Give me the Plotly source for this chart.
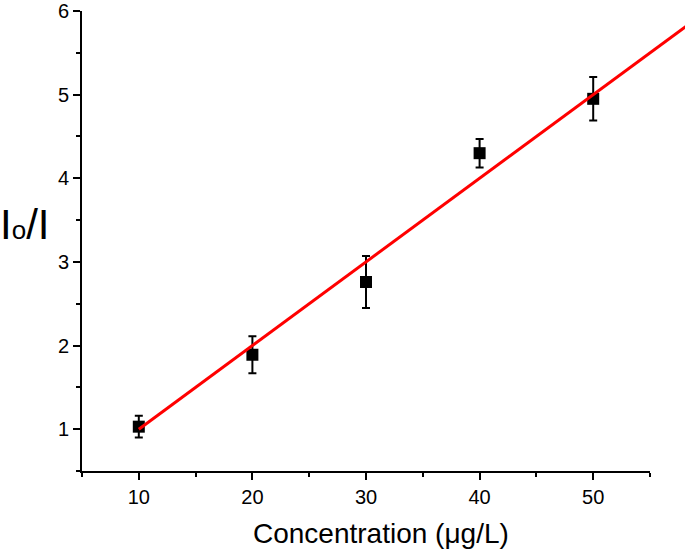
import plotly.graph_objects as go

# Data
conc = [10, 20, 30, 40, 50]
ratio = [1.03, 1.89, 2.76, 4.30, 4.95]
err = [0.13, 0.22, 0.31, 0.17, 0.26]
fit_x = [10, 60]
fit_y = [1.0, 6.0]

W, H = 685, 553
ML, MR, MT, MB = 82, 0, 8, 82
plot_right = 650  # px where x=55 sits
x0, x1 = 5, 55
pw = W - ML - MR
d1 = (plot_right - ML) / pw
scale = (plot_right - ML) / (x1 - x0)
x2max = x0 + pw / scale

font = "Liberation Sans, Arial, sans-serif"

fig = go.Figure()
fig.add_trace(go.Scatter(
    x=conc, y=ratio, mode="markers",
    marker=dict(symbol="square", size=12, color="black"),
    error_y=dict(type="data", array=err, visible=True, color="black", thickness=2, width=4),
    xaxis="x", yaxis="y", showlegend=False, cliponaxis=False,
))
fig.add_trace(go.Scatter(
    x=fit_x, y=fit_y, mode="lines",
    line=dict(color="#ff0000", width=3),
    xaxis="x2", yaxis="y2", showlegend=False,
))

axis_common = dict(
    showgrid=False, zeroline=False, showline=True, linecolor="black", linewidth=2,
    ticks="outside", ticklen=7, tickwidth=2, tickcolor="black",
    tickfont=dict(family=font, size=20, color="black"),
    ticklabeloverflow="allow",
)

fig.update_layout(
    width=W, height=H,
    margin=dict(l=ML, r=MR, t=MT, b=MB, pad=0),
    paper_bgcolor="white", plot_bgcolor="rgba(0,0,0,0)",
    xaxis=dict(domain=[0, d1], range=[x0, x1], tickmode="linear", tick0=10, dtick=10,
               minor=dict(ticks="outside", ticklen=4, tickwidth=2, tickcolor="black", tick0=5, dtick=5),
               anchor="y", **axis_common),
    yaxis=dict(domain=[0, 1], range=[0.5, 6], tickmode="linear", tick0=1, dtick=1,
               minor=dict(ticks="outside", ticklen=4, tickwidth=2, tickcolor="black", tick0=0.5, dtick=0.5),
               anchor="x", **axis_common),
    xaxis2=dict(domain=[0, 1], range=[x0, x2max], visible=False, anchor="y2"),
    yaxis2=dict(domain=[0, 1], range=[0.5, 6], visible=False, anchor="x2"),
    annotations=[
        dict(text="Concentration (μg/L)", xref="paper", yref="paper",
             x=(381 - ML) / pw, y=-(534 - (H - MB)) / (H - MT - MB),
             xanchor="center", yanchor="middle", showarrow=False,
             font=dict(family=font, size=28, color="black")),
        dict(text="I<span style='font-size:26px'>o</span>/I", xref="paper", yref="paper",
             x=(-2 - ML) / pw, y=((H - MB) - 223) / (H - MT - MB),
             xanchor="left", yanchor="middle", showarrow=False,
             font=dict(family=font, size=42, color="black")),
    ],
)

fig.write_html("out.html", config={"displayModeBar": False},
               post_script="document.body.style.margin='0';")
